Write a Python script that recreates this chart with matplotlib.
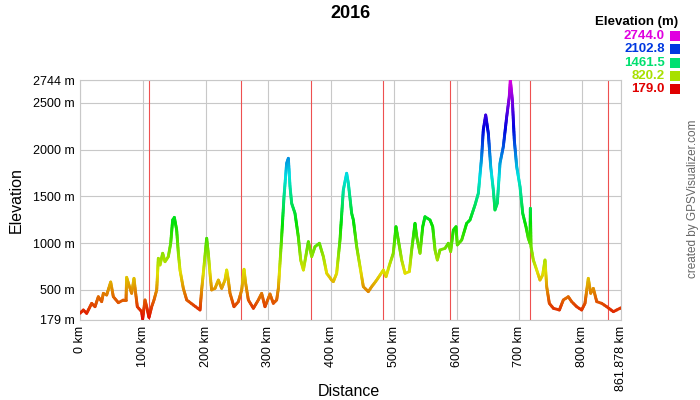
import colorsys
import numpy as np
import matplotlib.pyplot as plt
from matplotlib.collections import LineCollection
from matplotlib.patches import Rectangle

plt.rcParams['font.family'] = ['Liberation Sans', 'DejaVu Sans']

# elevation profile
dist_km = [0.0, 5.3, 10.6, 18.6, 23.9, 29.2, 34.5, 37.2, 42.5, 48.9, 53.1, 61.1, 69.1, 73.3,
           74.3, 79.7, 82.3, 86.0, 88.7, 91.3, 98.2, 99.8, 103.6, 106.2, 109.9, 114.2, 117.9,
           122.2, 124.8, 127.5, 131.7, 135.4, 140.7, 144.5, 147.6, 150.3, 154.0, 156.7, 159.3,
           164.6, 170.0, 180.6, 191.2, 193.8, 197.5, 201.8, 204.4, 207.1, 209.7, 215.1, 220.4,
           225.7, 231.0, 233.7, 236.3, 239.0, 245.3, 252.3, 257.6, 261.3, 263.9, 268.2, 276.2,
           284.1, 289.4, 294.7, 302.7, 308.0, 313.3, 316.0, 318.6, 321.3, 325.0, 329.2, 331.9,
           334.6, 337.2, 342.5, 347.8, 351.6, 355.9, 360.1, 363.8, 369.1, 374.4, 381.3, 387.7,
           393.0, 400.9, 403.6, 408.9, 414.2, 419.5, 424.8, 427.5, 432.8, 435.5, 440.8, 446.1,
           451.4, 459.3, 464.7, 472.7, 483.3, 487.5, 493.9, 499.1, 503.4, 507.1, 512.5, 517.8,
           524.7, 528.4, 533.7, 536.4, 541.7, 546.0, 549.6, 557.6, 561.9, 565.6, 569.3, 573.5,
           581.5, 586.8, 590.5, 594.8, 599.0, 601.1, 608.1, 616.0, 621.3, 629.3, 634.6, 639.9,
           642.5, 646.3, 650.5, 654.3, 658.5, 661.1, 664.8, 669.1, 674.4, 679.8, 683.9, 685.6,
           688.8, 691.9, 695.7, 701.0, 705.3, 710.5, 714.2, 716.9, 717.5, 718.5, 722.2, 727.6,
           732.8, 737.1, 740.8, 743.5, 747.7, 754.1, 763.7, 770.0, 777.9, 783.3, 791.3, 799.2,
           804.5, 809.8, 813.6, 817.8, 823.2, 831.1, 839.1, 849.7, 855.0, 860.3, 861.878]
elev_m = [250, 286, 250, 357, 321, 428, 375, 464, 446, 585, 428, 364, 393, 393,
          635, 517, 464, 624, 464, 321, 268, 190, 393, 321, 207, 321, 393,
          500, 838, 767, 892, 802, 856, 999, 1248, 1276, 1141, 892, 713,
          517, 393, 339, 286, 500, 749, 1052, 892, 678, 500, 517, 606,
          517, 606, 713, 606, 464, 321, 375, 500, 721, 571, 393, 304,
          393, 464, 321, 457, 357, 393, 517, 785, 1069, 1497, 1854, 1907,
          1604, 1426, 1319, 1069, 820, 713, 874, 1016, 856, 963, 999, 856,
          678, 606, 589, 678, 1034, 1568, 1747, 1640, 1319, 1248, 962, 749,
          535, 482, 535, 606, 713, 642, 785, 892, 1176, 1034, 820, 678,
          696, 927, 1212, 1069, 892, 1176, 1283, 1248, 1176, 927, 820, 927,
          945, 999, 910, 1141, 1176, 981, 1034, 1212, 1248, 1408, 1533, 1925,
          2210, 2370, 2174, 1818, 1568, 1355, 1426, 1854, 2032, 2352, 2566, 2744,
          2530, 2103, 1818, 1604, 1319, 1176, 1052, 999, 1373, 963, 820, 713,
          606, 660, 820, 535, 357, 304, 286, 393, 428, 375, 321, 286,
          357, 624, 464, 517, 375, 357, 321, 268, 286, 304, 310]

stage_km = [110.4, 257.0, 368.5, 483.2, 590.0, 717.4, 841.6]

x_ticks = [0, 100, 200, 300, 400, 500, 600, 700, 800, 861.878]
x_labels = ['0 km', '100 km', '200 km', '300 km', '400 km', '500 km', '600 km',
            '700 km', '800 km', '861.878 km']
y_ticks = [179, 500, 1000, 1500, 2000, 2500, 2744]
y_labels = ['179 m', '500 m', '1000 m', '1500 m', '2000 m', '2500 m', '2744 m']

legend_vals = [2744.0, 2102.8, 1461.5, 820.2, 179.0]

emin, emax = 179.0, 2744.0


def elev_color(e):
    # hue runs red -> magenta over the elevation range
    h = (e - emin) / (emax - emin) * 300.0 / 360.0
    return colorsys.hsv_to_rgb(h, 1.0, 0.88)


fig = plt.figure(figsize=(7, 4), dpi=100)
ax = fig.add_axes([80 / 700, 80 / 400, 541 / 700, 240 / 400])

ax.set_xlim(0, 861.878)
ax.set_ylim(emin, emax)
ax.set_xticks(x_ticks)
ax.set_xticklabels(x_labels, rotation=90, fontsize=9)
ax.set_yticks(y_ticks)
ax.set_yticklabels(y_labels, fontsize=9)
ax.tick_params(length=0, pad=4)
ax.grid(True, color='#c8c8c8', lw=0.8)
ax.set_axisbelow(True)
for s in ax.spines.values():
    s.set_color('#c8c8c8')
    s.set_linewidth(0.8)

for k in stage_km:
    ax.axvline(k, color='#ee5050', lw=0.8, zorder=1.5)

# each straight segment is drawn in short pieces so the colour follows height
segs = []
cols = []
for x0, x1, y0, y1 in zip(dist_km[:-1], dist_km[1:], elev_m[:-1], elev_m[1:]):
    n = max(1, int(abs(y1 - y0) / 15))
    t = np.linspace(0, 1, n + 1)
    xs = x0 + (x1 - x0) * t
    ys = y0 + (y1 - y0) * t
    for i in range(n):
        segs.append([(xs[i], ys[i]), (xs[i + 1], ys[i + 1])])
        cols.append(elev_color((ys[i] + ys[i + 1]) / 2))
lc = LineCollection(segs, colors=cols, linewidths=2.1, capstyle='round', zorder=3)
ax.add_collection(lc)

fig.text(0.5, 1 - 14 / 400, '2016', ha='center', va='center', fontsize=13, fontweight='bold')
fig.text(16.5 / 700, 0.5, 'Elevation', rotation=90, ha='center', va='center', fontsize=11.5)
fig.text(349 / 700, 1 - 391 / 400, 'Distance', ha='center', va='center', fontsize=11.5)

# legend block, top right
fig.text(637 / 700, 1 - 22.5 / 400, 'Elevation (m)', ha='center', va='center',
         fontsize=9.5, fontweight='bold')
for i, v in enumerate(legend_vals):
    yc = 36 + i * 13.3
    c = elev_color(v)
    fig.text(665 / 700, 1 - yc / 400, f'{v:.1f}', ha='right', va='center',
             fontsize=9.5, fontweight='bold', color=c)
    fig.patches.append(Rectangle((670 / 700, 1 - (yc + 5) / 400), 10 / 700, 10 / 400,
                                 transform=fig.transFigure, facecolor=c, edgecolor='none'))

fig.text(693 / 700, 1 - 199 / 400, 'created by GPSVisualizer.com', rotation=90,
         ha='center', va='center', fontsize=8.5, color='#666666')

fig.savefig('out.png', dpi=100)
